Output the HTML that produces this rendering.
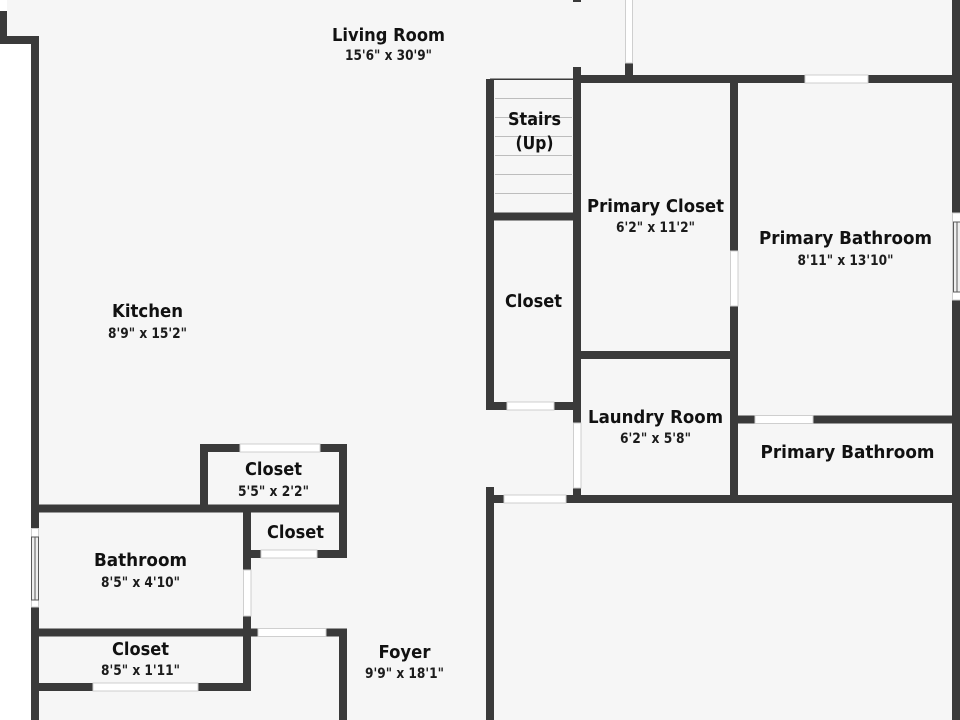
<!DOCTYPE html>
<html><head><meta charset="utf-8"><style>
html,body{margin:0;padding:0;width:960px;height:720px;overflow:hidden;background:#f6f6f6}
svg{display:block}
.t{font:bold 18px "DejaVu Sans","Liberation Sans",sans-serif;fill:#111;text-anchor:middle}
.s{font:bold 14px "DejaVu Sans","Liberation Sans",sans-serif;fill:#1c1c1c;text-anchor:middle}
</style></head><body>
<svg width="960" height="720" viewBox="0 0 960 720" xmlns="http://www.w3.org/2000/svg">
<rect width="960" height="720" fill="#f6f6f6"/>
<!-- outside white -->
<rect x="0" y="44" width="31" height="676" fill="#fff"/>
<rect x="0" y="0" width="7" height="11" fill="#fff"/>
<g fill="#3a3a3a">
<rect x="0" y="11" width="7" height="33"/>
<rect x="0" y="36" width="39" height="8"/>
<rect x="31" y="36" width="8" height="684"/>
<rect x="573" y="0" width="8" height="2"/>
<rect x="573" y="67" width="8" height="433"/>
<rect x="625" y="63" width="8" height="16"/>
<rect x="577" y="75" width="383" height="8"/>
<rect x="730" y="79" width="8" height="424"/>
<rect x="952" y="0" width="8" height="720"/>
<rect x="486" y="79" width="8" height="331"/>
<rect x="490" y="212.500" width="87" height="8"/>
<rect x="486" y="402" width="91" height="8"/>
<rect x="577" y="351" width="157" height="8"/>
<rect x="734" y="415.500" width="226" height="8"/>
<rect x="486" y="495" width="474" height="8"/>
<rect x="486" y="487" width="8" height="233"/>
<rect x="31" y="504.500" width="316" height="8"/>
<rect x="200" y="444" width="8" height="65"/>
<rect x="200" y="444" width="147" height="8"/>
<rect x="339" y="444" width="8" height="114"/>
<rect x="243" y="550" width="104" height="8"/>
<rect x="243" y="509" width="8" height="182"/>
<rect x="31" y="628.500" width="316" height="8"/>
<rect x="339" y="628.500" width="8" height="92"/>
<rect x="31" y="683" width="220" height="8"/>
</g>
<!-- stair top line & treads -->
<rect x="490" y="78.500" width="85" height="1.500" fill="#3a3a3a"/>
<g fill="#bdbdbd">
<rect x="495" y="98" width="77" height="1"/>
<rect x="495" y="117" width="77" height="1"/>
<rect x="495" y="136" width="77" height="1"/>
<rect x="495" y="155" width="77" height="1"/>
<rect x="495" y="174" width="77" height="1"/>
<rect x="495" y="193" width="77" height="1"/>
</g>
<!-- doors -->
<g fill="#fff" stroke="#cfcfcf" stroke-width="1">
<rect x="625.500" y="-1" width="7" height="64"/>
<rect x="805" y="75" width="63" height="8"/>
<rect x="730.500" y="251" width="7.500" height="55"/>
<rect x="507" y="402" width="47" height="8"/>
<rect x="573.500" y="423" width="7.500" height="65"/>
<rect x="504" y="495" width="62" height="8"/>
<rect x="755" y="415.500" width="58" height="8"/>
<rect x="240" y="444" width="80" height="8"/>
<rect x="261" y="550" width="56" height="8"/>
<rect x="243.500" y="570" width="7.500" height="46"/>
<rect x="258" y="628.500" width="68" height="8"/>
<rect x="93" y="683" width="105" height="8"/>
</g>
<!-- windows -->
<g stroke="#5a5a5a" stroke-width="1">
<rect x="31.500" y="528.500" width="7" height="78.500" fill="#fff" stroke="#cfcfcf"/>
<rect x="31.500" y="537" width="7" height="63" fill="#efefef"/>
<line x1="35" y1="537" x2="35" y2="600"/>
<rect x="952.500" y="213" width="8" height="87" fill="#fff" stroke="#cfcfcf"/>
<rect x="953.500" y="222" width="7" height="70" fill="#efefef"/>
<line x1="957" y1="222" x2="957" y2="292"/>
</g>
<!-- labels -->
<text class="t" x="388.500" y="41" textLength="113" lengthAdjust="spacingAndGlyphs">Living Room</text>
<text class="s" x="388.500" y="60" textLength="87" lengthAdjust="spacingAndGlyphs">15'6" x 30'9"</text>
<text class="t" x="534.500" y="125" textLength="53" lengthAdjust="spacingAndGlyphs">Stairs</text>
<text class="t" x="534.500" y="149" textLength="38" lengthAdjust="spacingAndGlyphs">(Up)</text>
<text class="t" x="655.500" y="212" textLength="137" lengthAdjust="spacingAndGlyphs">Primary Closet</text>
<text class="s" x="655.500" y="232" textLength="79" lengthAdjust="spacingAndGlyphs">6'2" x 11'2"</text>
<text class="t" x="845.500" y="244" textLength="173" lengthAdjust="spacingAndGlyphs">Primary Bathroom</text>
<text class="s" x="845.500" y="265" textLength="96" lengthAdjust="spacingAndGlyphs">8'11" x 13'10"</text>
<text class="t" x="533.500" y="307" textLength="57" lengthAdjust="spacingAndGlyphs">Closet</text>
<text class="t" x="147.500" y="317" textLength="71" lengthAdjust="spacingAndGlyphs">Kitchen</text>
<text class="s" x="147.500" y="338" textLength="79" lengthAdjust="spacingAndGlyphs">8'9" x 15'2"</text>
<text class="t" x="655.500" y="423" textLength="135" lengthAdjust="spacingAndGlyphs">Laundry Room</text>
<text class="s" x="655.500" y="443" textLength="71" lengthAdjust="spacingAndGlyphs">6'2" x 5'8"</text>
<text class="t" x="847.500" y="458" textLength="174" lengthAdjust="spacingAndGlyphs">Primary Bathroom</text>
<text class="t" x="273.500" y="475" textLength="57" lengthAdjust="spacingAndGlyphs">Closet</text>
<text class="s" x="273.500" y="496" textLength="71" lengthAdjust="spacingAndGlyphs">5'5" x 2'2"</text>
<text class="t" x="295.500" y="538" textLength="57" lengthAdjust="spacingAndGlyphs">Closet</text>
<text class="t" x="140.500" y="566" textLength="93" lengthAdjust="spacingAndGlyphs">Bathroom</text>
<text class="s" x="140.500" y="587" textLength="79" lengthAdjust="spacingAndGlyphs">8'5" x 4'10"</text>
<text class="t" x="140.500" y="655" textLength="57" lengthAdjust="spacingAndGlyphs">Closet</text>
<text class="s" x="140.500" y="675" textLength="79" lengthAdjust="spacingAndGlyphs">8'5" x 1'11"</text>
<text class="t" x="404.500" y="658" textLength="52" lengthAdjust="spacingAndGlyphs">Foyer</text>
<text class="s" x="404.500" y="678" textLength="79" lengthAdjust="spacingAndGlyphs">9'9" x 18'1"</text>
</svg>
</body></html>
